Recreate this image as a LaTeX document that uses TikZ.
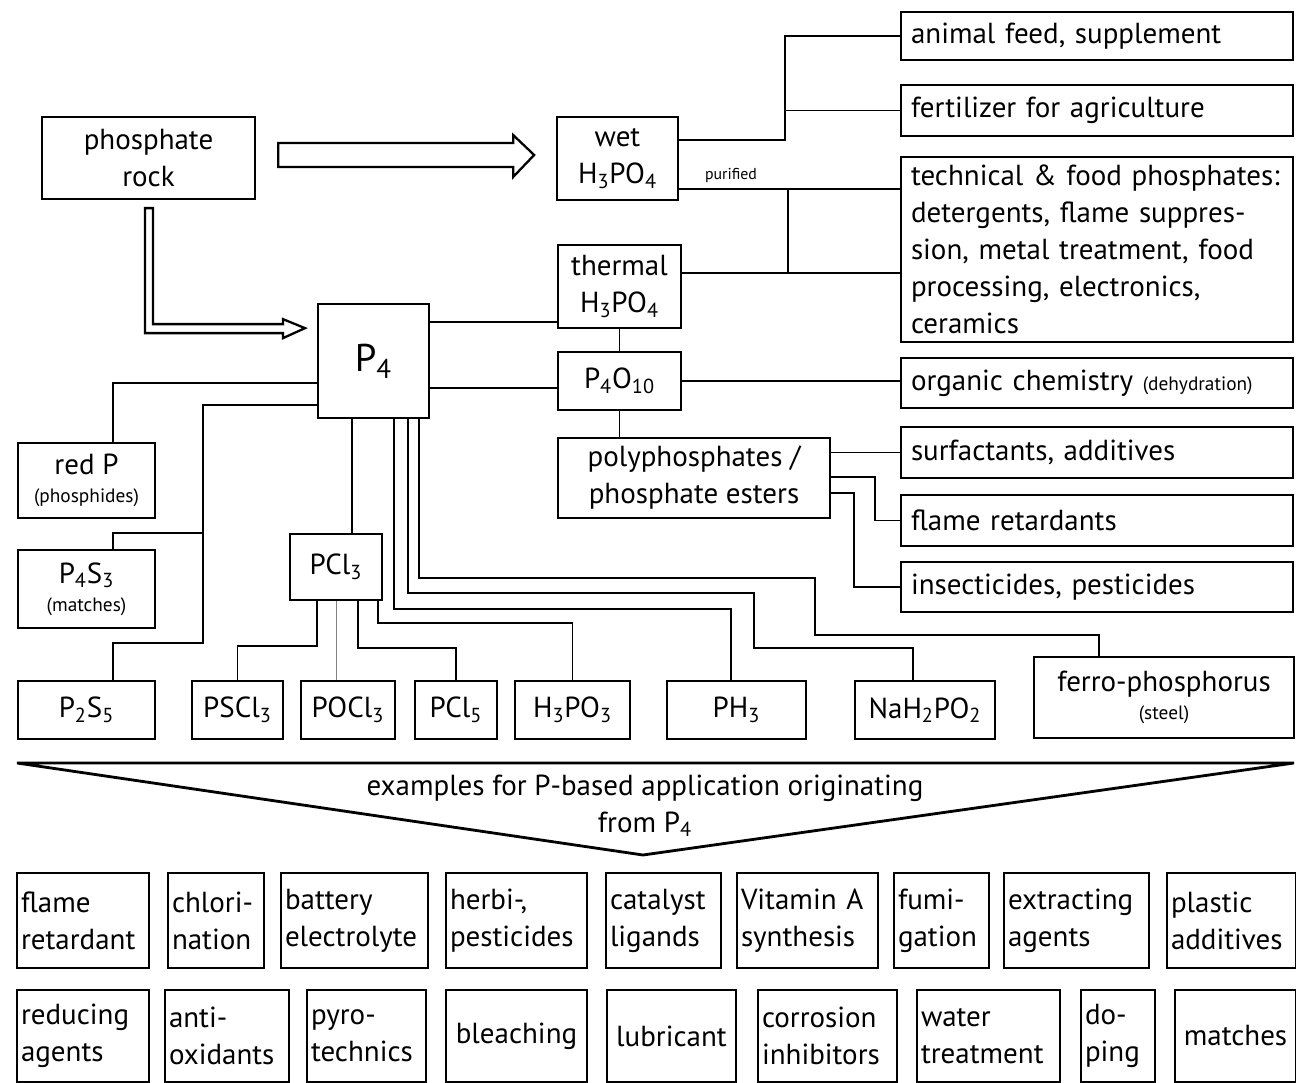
\documentclass[tikz,border=0pt]{standalone}
\usepackage{fontspec}
\setmainfont{PT Sans}
\usetikzlibrary{calc}
\newcommand{\subs}[1]{\textsubscript{#1}}
\newcommand{\mainsize}{\fontsize{16.5}{21}\selectfont}
\newcommand{\smallsize}{\fontsize{11}{13}\selectfont}
\hyphenpenalty=10000
\exhyphenpenalty=10000

\begin{document}
\begin{tikzpicture}[
    box/.style={rectangle, draw, line width=1.3pt, inner sep=0pt, align=center, font=\mainsize},
    chem/.style={box, minimum height=1.16cm},
    side/.style={box, align=left, text width=7.44cm, inner xsep=0.2cm, minimum height=1cm},
    app/.style={box, align=left, inner xsep=0.08cm, minimum height=1.9cm},
    link/.style={line width=0.9pt},
    hollow/.style={line width=1.3pt, line join=miter, fill=white}
]
    \useasboundingbox (0,0) rectangle (25.92,-21.66);

    % raw material and acids
    \node[box, minimum width=4.26cm, minimum height=1.64cm] (rock) at (2.97,-3.16) {phosphate\\rock};
    \node[box, minimum width=2.42cm, minimum height=1.66cm] (wet) at (12.35,-3.17) {wet\\H\subs{3}PO\subs{4}};
    \node[box, minimum width=2.46cm, minimum height=1.66cm] (thermal) at (12.39,-5.73) {thermal\\H\subs{3}PO\subs{4}};
    \node[box, minimum width=2.46cm, minimum height=1.16cm] (P4O10) at (12.39,-7.62) {P\subs{4}O\subs{10}};
    \node[box, minimum width=5.44cm, minimum height=1.60cm] (poly) at (13.88,-9.56) {polyphosphates /\\phosphate esters};
    \node[box, minimum width=2.22cm, minimum height=2.28cm, font=\fontsize{22}{26}\selectfont] (P4) at (7.47,-7.22) {P\subs{4}};

    % left branch
    \node[box, minimum width=2.74cm, minimum height=1.50cm] (redP) at (1.73,-9.61) {red P\\[-5pt]{\smallsize (phosphides)}};
    \node[box, minimum width=2.74cm, minimum height=1.56cm] (P4S3) at (1.73,-11.78) {P\subs{4}S\subs{3}\\[-5pt]{\smallsize (matches)}};
    \node[box, minimum width=1.84cm, minimum height=1.32cm] (PCl3) at (6.72,-11.34) {PCl\subs{3}};

    % bottom row of compounds
    \node[chem, minimum width=2.74cm] (P2S5) at (1.73,-14.20) {P\subs{2}S\subs{5}};
    \node[chem, minimum width=1.82cm] (PSCl3) at (4.75,-14.20) {PSCl\subs{3}};
    \node[chem, minimum width=1.88cm] (POCl3) at (6.96,-14.20) {POCl\subs{3}};
    \node[chem, minimum width=1.64cm] (PCl5) at (9.12,-14.20) {PCl\subs{5}};
    \node[chem, minimum width=2.30cm] (H3PO3) at (11.45,-14.20) {H\subs{3}PO\subs{3}};
    \node[chem, minimum width=2.78cm] (PH3) at (14.73,-14.20) {PH\subs{3}};
    \node[chem, minimum width=2.80cm] (NaH) at (18.50,-14.20) {NaH\subs{2}PO\subs{2}};
    \node[box, minimum width=5.20cm, minimum height=1.62cm] (ferro) at (23.28,-13.95) {ferro-phosphorus\\[-5pt]{\smallsize (steel)}};

    % uses on the right
    \node[side, minimum height=0.96cm] (animal) at (21.94,-0.72) {animal feed, supplement};
    \node[side, minimum height=1.02cm] (fert) at (21.94,-2.21) {fertilizer for agriculture};
    \node[side, minimum height=3.70cm] (tech) at (21.94,-4.99) {technical \& food phosphates:\\detergents, flame suppres-\\sion, metal treatment, food\\processing, electronics,\\ceramics};
    \node[side] (organic) at (21.94,-7.66) {organic chemistry {\smallsize (dehydration)}};
    \node[side, minimum height=1.02cm] (surf) at (21.94,-9.05) {surfactants, additives};
    \node[side, minimum height=1.02cm] (flame) at (21.94,-10.41) {flame retardants};
    \node[side] (insect) at (21.94,-11.74) {insecticides, pesticides};

    % hollow arrows from the rock
    \draw[hollow] ($(rock.east)+(0.44,0.30)$) -- ++(4.70,0) -- ++(0,0.16) -- ++(0.42,-0.40)
        -- ++(-0.42,-0.44) -- ++(0,0.20) -- ++(-4.70,0) -- cycle;
    \draw[hollow] ($(rock.south)+(-0.07,-0.16)$) -- ++(0.16,0) -- ++(0,-2.32) -- ++(2.60,0)
        -- ++(0,0.10) -- ++(0.44,-0.18) -- ++(-0.44,-0.20) -- ++(0,0.10) -- ++(-2.76,0) -- cycle;

    % acids to uses
    \draw[link] (wet.east |- 0,-2.80) -- (15.70,-2.80) |- (animal.west);
    \draw[link] (15.70,-2.21) -- (fert.west);
    \draw[link] (wet.east |- 0,-3.78) -- (tech.west |- 0,-3.78);
    \draw[link] (thermal.east |- 0,-5.46) -- (tech.west |- 0,-5.46);
    \draw[link] (15.76,-3.78) -- (15.76,-5.46);
    \node[font=\fontsize{9}{11}\selectfont] (purified) at (14.62,-3.50) {purified};

    % P4 to the right
    \draw[link] (P4.east |- 0,-6.44) -- (thermal.west |- 0,-6.44);
    \draw[link] (P4.east |- 0,-7.76) -- (P4O10.west |- 0,-7.76);
    \draw[link] (thermal.south) -- (P4O10.north);
    \draw[link] (P4O10.east) -- (P4O10.east -| organic.west);
    \draw[link] (P4O10.south) -- (P4O10.south |- poly.north);

    % polyphosphates
    \draw[link] (poly.east |- surf.west) -- (surf.west);
    \draw[link] (poly.east |- 0,-9.54) -- (17.50,-9.54) |- (flame.west);
    \draw[link] (poly.east |- 0,-9.86) -- (17.08,-9.86) |- (insect.west);

    % P4 to the left
    \draw[link] (P4.west |- 0,-7.66) -| ([xshift=0.53cm]redP.north);
    \draw[link] (P4.west |- 0,-8.10) -- (4.06,-8.10) -- (4.06,-12.86) -| ([xshift=0.53cm]P2S5.north);
    \draw[link] (4.06,-10.66) -| ([xshift=0.53cm]P4S3.north);

    % P4 downwards
    \draw[link] ([xshift=-0.43cm]P4.south) -- ([xshift=0.32cm]PCl3.north);
    \draw[link] ([xshift=0.41cm]P4.south) |- (14.62,-12.18) -- ([xshift=-0.11cm]PH3.north);
    \draw[link] ([xshift=0.69cm]P4.south) |- (15.08,-11.86) |- (18.26,-12.96) -- ([xshift=-0.24cm]NaH.north);
    \draw[link] ([xshift=0.91cm]P4.south) |- (16.30,-11.56) |- (21.98,-12.70) -- ([xshift=-1.30cm]ferro.north);

    % PCl3 downwards
    \draw[link] ([xshift=-0.38cm]PCl3.south) -- ++(0,-0.90) -| (PSCl3.north);
    \draw[link, line width=0.5pt, gray] (PCl3.south) -- (PCl3.south |- POCl3.north);
    \draw[link] ([xshift=0.44cm]PCl3.south) -- ++(0,-0.94) -| (PCl5.north);
    \draw[link] ([xshift=0.84cm]PCl3.south) -- ++(0,-0.44) -| (H3PO3.north);

    % funnel to the examples
    \draw[line width=1.6pt, line join=miter] (0.34,-15.26) -- (25.88,-15.26) -- (12.86,-17.10) -- cycle;
    \node[font=\mainsize, align=center] (examples) at (12.90,-16.12) {examples for P-based application originating\\from P\subs{4}};

    % examples, first row
    \node[app, minimum width=2.64cm, text width=2.48cm] (a1) at (1.66,-18.41) {flame\\retardant};
    \node[app, minimum width=1.92cm, text width=1.76cm] (a2) at (4.32,-18.41) {chlori-\\nation};
    \node[app, minimum width=2.94cm, text width=2.78cm] (a3) at (7.09,-18.41) {battery\\electrolyte};
    \node[app, minimum width=2.82cm, text width=2.66cm] (a4) at (10.33,-18.41) {herbi-,\\pesticides};
    \node[app, minimum width=2.30cm, text width=2.14cm] (a5) at (13.27,-18.41) {catalyst\\ligands};
    \node[app, minimum width=2.82cm, text width=2.66cm] (a6) at (16.15,-18.41) {Vitamin~A\\synthesis};
    \node[app, minimum width=1.90cm, text width=1.74cm] (a7) at (18.83,-18.41) {fumi-\\gation};
    \node[app, minimum width=2.90cm, text width=2.74cm] (a8) at (21.53,-18.41) {extracting\\agents};
    \node[app, minimum width=2.58cm, text width=2.42cm] (a9) at (24.63,-18.41) {plastic\\additives};

    % examples, second row
    \node[app, minimum height=1.84cm, text width=2.48cm] (b1) at (1.66,-20.72) {reducing\\agents};
    \node[app, minimum height=1.84cm, text width=2.32cm] (b2) at (4.54,-20.72) {anti-\\oxidants};
    \node[app, minimum height=1.84cm, text width=2.22cm] (b3) at (7.33,-20.72) {pyro-\\technics};
    \node[app, minimum height=1.84cm, text width=2.66cm, align=center] (b4) at (10.33,-20.72) {bleaching};
    \node[app, minimum height=1.84cm, text width=2.42cm, align=center] (b5) at (13.43,-20.72) {lubricant};
    \node[app, minimum height=1.84cm, text width=2.62cm] (b6) at (16.55,-20.72) {corrosion\\inhibitors};
    \node[app, minimum height=1.84cm, text width=2.70cm] (b7) at (19.77,-20.72) {water\\treatment};
    \node[app, minimum height=1.84cm, text width=1.32cm] (b8) at (22.36,-20.72) {do-\\ping};
    \node[app, minimum height=1.84cm, text width=2.26cm, align=center] (b9) at (24.71,-20.72) {matches};
\end{tikzpicture}
\end{document}
